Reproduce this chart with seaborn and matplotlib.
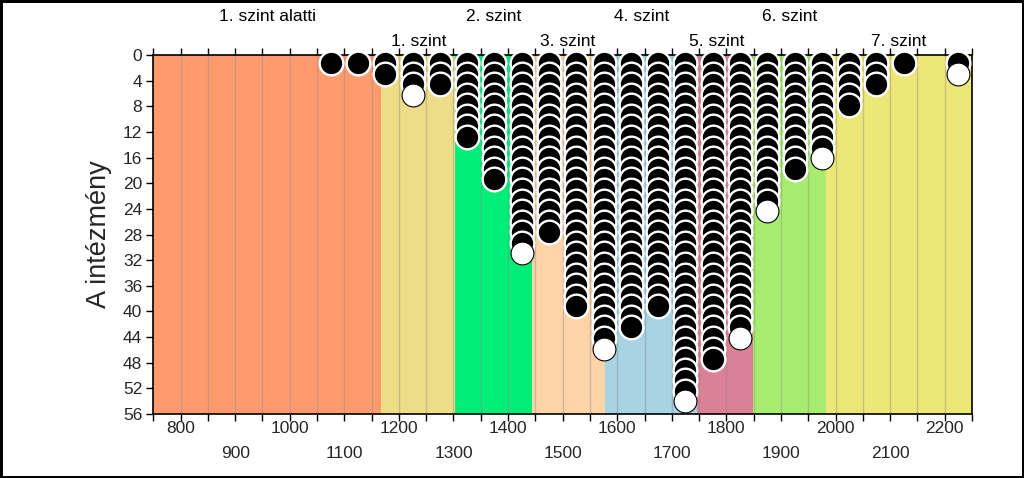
import numpy as np
import pandas as pd
import matplotlib
matplotlib.use("Agg")
import matplotlib.pyplot as plt
import seaborn as sns

# ---- data ----
bin_centers = [1075, 1125, 1175, 1225, 1275, 1325, 1375, 1425, 1475, 1525, 1575,
               1625, 1675, 1725, 1775, 1825, 1875, 1925, 1975, 2025, 2075, 2125, 2225]
counts = [1, 1, 2, 4, 3, 8, 12, 19, 17, 24, 28,
          26, 24, 33, 29, 27, 15, 11, 10, 5, 3, 1, 2]
last_white = [0, 0, 0, 1, 0, 0, 0, 1, 0, 0, 1,
              0, 0, 1, 0, 1, 1, 0, 1, 0, 0, 0, 1]

level_names = ["1. szint alatti", "1. szint", "2. szint", "3. szint",
               "4. szint", "5. szint", "6. szint", "7. szint"]
level_edges = [750, 1168, 1303, 1443, 1577, 1746, 1849, 1982, 2250]
label_edges = [750, 1168, 1303, 1443, 1577, 1714, 1849, 1982, 2250]
level_colors = ["#FE9B6E", "#ECDD86", "#00EE77", "#FFD3A8",
                "#A7D3E3", "#DB8197", "#A7EC6F", "#ECE777"]

x_ticks = list(range(800, 2201, 100))
y_ticks = list(range(0, 57, 4))

# ---- build circle table ----
Y0 = 1.25
STEP = 1.65
rows = []
for xc, n, w in zip(bin_centers, counts, last_white):
    for i in range(n):
        fill = "white" if (w and i == n - 1) else "black"
        rows.append({"x": xc, "y": Y0 + STEP * i, "fill": fill})
df = pd.DataFrame(rows)

sns.set_theme(style="white")
plt.rcParams["font.family"] = ["Liberation Sans", "DejaVu Sans"]

fig = plt.figure(figsize=(10.24, 4.78), dpi=100)
fig.patch.set_facecolor("white")
ax = fig.add_axes([0.1497, 0.1339, 0.9492 - 0.1497, 0.8849 - 0.1339])

# level bands
for lo, hi, c in zip(level_edges[:-1], level_edges[1:], level_colors):
    ax.axvspan(lo, hi, color=c, lw=0, zorder=0)

# bin grid lines
for gx in range(800, 2250, 50):
    ax.axvline(gx, color="#888888", alpha=0.4, lw=1, zorder=1)

blk = df[df["fill"] == "black"]
wht = df[df["fill"] == "white"]
sns.scatterplot(data=blk, x="x", y="y", ax=ax, s=290, color="black",
                edgecolor="white", linewidth=1.7, zorder=5, clip_on=False, legend=False)
sns.scatterplot(data=wht, x="x", y="y", ax=ax, s=270, color="white",
                edgecolor="black", linewidth=0.8, zorder=6, clip_on=False, legend=False)

ax.set_xlim(750, 2250)
ax.set_ylim(56, 0)
ax.set_yticks(y_ticks)
ax.set_yticklabels([str(v) for v in y_ticks], fontsize=12.5)
ax.set_xticks(x_ticks)
ax.set_xticklabels([str(v) if (v // 100) % 2 == 0 else "\n" + str(v) for v in x_ticks],
                   fontsize=12.5, linespacing=1.8)
ax.set_xticks(list(range(750, 2251, 50)), minor=True)
ax.tick_params(axis="x", which="both", direction="out", length=5, width=1,
               color="black", bottom=True, top=True, labelbottom=True, pad=0)
ax.tick_params(axis="y", direction="out", length=5, width=1, color="black", left=True, pad=3)
ax.set_xlabel("")
ax.set_ylabel("A intézmény", fontsize=19.5, labelpad=8)
for sp in ax.spines.values():
    sp.set_color("black")
    sp.set_linewidth(1.2)
    sp.set_zorder(3)

# level labels above the plot
for k, name in enumerate(level_names):
    xm = (label_edges[k] + label_edges[k + 1]) / 2
    ypos = 1.106 if k % 2 == 0 else 1.039
    ax.text(xm, ypos, name, transform=ax.get_xaxis_transform(),
            ha="center", va="center", fontsize=12.5, color="black")

fig.patch.set_edgecolor("black")
fig.patch.set_linewidth(2.5)

fig.savefig("out.png", dpi=100, facecolor=fig.get_facecolor(), edgecolor=fig.get_edgecolor())
